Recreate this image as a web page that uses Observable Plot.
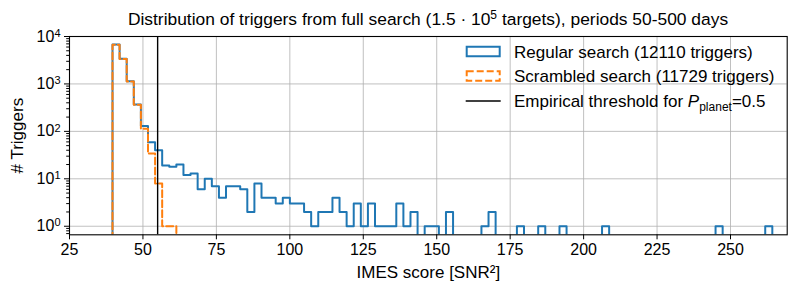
<!DOCTYPE html>
<html><head><meta charset="utf-8">
<script src="https://cdn.jsdelivr.net/npm/d3@7"></script>
<script src="https://cdn.jsdelivr.net/npm/@observablehq/plot@0.6"></script>
<style>
body{margin:0;background:#fff;font-family:"Liberation Sans",Arial,Helvetica,sans-serif;}
#wrap{position:relative;width:797px;height:295px;overflow:hidden;}
#title{position:absolute;left:69px;width:718px;top:9px;text-align:center;font-size:17.4px;line-height:20px;color:#000;white-space:nowrap;}
#title sup{font-size:12px;line-height:0;vertical-align:6px;}
#chart{position:absolute;left:0;top:30px;}
</style></head><body>
<div id="wrap"><div id="title">Distribution of triggers from full search (1.5 · 10<sup>5</sup> targets), periods 50-500 days</div><div id="chart"></div></div>
<script>
// bins (shared by both histograms)
const binStart = 39.64;
const binWidth = 2.415;
// Regular search counts per bin (12110 triggers)
const regularCounts = [
  6785,3385,1140,369,129,59,40,19,18,20,
  12,13,6,10,7,4,7,7,6,2,
  8,4,4,3,4,3,3,2,1,2,
  2,4,2,1,3,1,3,1,1,1,
  3,1,2,0,1,1,0,2,0,0,
  0,0,1,2,0,0,0,1,0,0,
  1,0,0,1,0,0,0,0,0,1,
  0,0,0,0,0,0,0,0,0,0,
  0,0,0,0,0,1,0,0,0,0,
  0,0,1
];
// Scrambled search counts per bin (11729 triggers)
const scrambledCounts = [6724,3355,1128,365,113,34,8,1,1];
const threshold = 55;
const xTicks = [25,50,75,100,125,150,175,200,225,250];
const yTicks = [1,10,100,1000,10000];
const yMinorTicks = [0.7,0.8,0.9,2,3,4,5,6,7,8,9,20,30,40,50,60,70,80,90,200,300,400,500,600,700,800,900,2000,3000,4000,5000,6000,7000,8000,9000];
const legendLabels = ["Regular search (12110 triggers)","Scrambled search (11729 triggers)","Empirical threshold for "];
const xLabel = "IMES score [SNR²]";
const yLabel = "# Triggers";

const floorVal = 0.2;
function stepPoints(counts){
  const pts=[{x:binStart,y:floorVal}];
  counts.forEach((c,i)=>pts.push({x:binStart+i*binWidth,y:c>0?c:floorVal}));
  pts.push({x:binStart+counts.length*binWidth,y:floorVal});
  return pts;
}
const regPts = stepPoints(regularCounts);
const scrPts = stepPoints(scrambledCounts);

const FONT='"Liberation Sans",Arial,Helvetica,sans-serif';
const gridStyle={stroke:"#b0b0b0",strokeOpacity:1,strokeWidth:0.8};
const chart = Plot.plot({
  width:797,height:265,
  marginLeft:69,marginRight:10.3,marginTop:6,marginBottom:60.7,
  style:{fontFamily:FONT,fontSize:"16px",background:"white",color:"black",overflow:"visible"},
  x:{domain:[25,269.3],label:null},
  y:{type:"log",domain:[0.66,10000],label:null},
  marks:[
    Plot.gridX(xTicks,gridStyle),
    Plot.gridY(yTicks,gridStyle),
    Plot.line(regPts,{x:"x",y:"y",curve:"step-after",stroke:"#1f77b4",strokeWidth:2,clip:true}),
    Plot.line(scrPts,{x:"x",y:"y",curve:"step-after",stroke:"#ff7f0e",strokeWidth:2,strokeDasharray:"7,3",clip:true}),
    Plot.ruleX([threshold],{stroke:"black",strokeWidth:1.4}),
    Plot.axisX(xTicks,{tickSize:5,tickPadding:4,fontSize:16,label:null}),
    Plot.axisY(yTicks,{tickSize:5,tickPadding:4,fontSize:16,label:null,tickFormat:d=>String(Math.round(Math.log10(d)))}),
    Plot.axisY(yMinorTicks,{tickSize:2.8,tickFormat:()=>"",label:null}),
    Plot.frame({stroke:"black",strokeWidth:1.1}),
    Plot.text([xLabel],{frameAnchor:"bottom",lineAnchor:"middle",textAnchor:"middle",dy:38,fontSize:17}),
    Plot.text([yLabel],{frameAnchor:"left",lineAnchor:"middle",textAnchor:"middle",dx:-51.5,rotate:-90,fontSize:17})
  ]
});
document.getElementById("chart").appendChild(chart);

// superscript exponents on y tick labels
d3.select(chart).selectAll('g[aria-label="y-axis tick label"] text').each(function(){
  const t=d3.select(this); const e=t.text().trim(); if(!e) return; t.text("");
  t.append("tspan").text("10");
  t.append("tspan").attr("dy","-0.45em").attr("font-size","11px").text(e);
});

// legend (svg coordinates)
const svg=d3.select(chart);
const lg=svg.append("g").attr("font-family",FONT).attr("font-size","17px").attr("text-anchor","start");
const lx=466.7, tx=514, rows=[21.5,46,71];
lg.append("rect").attr("x",lx).attr("y",rows[0]-4.75).attr("width",33).attr("height",9.5)
  .attr("fill","none").attr("stroke","#1f77b4").attr("stroke-width",2);
lg.append("rect").attr("x",lx).attr("y",rows[1]-4.75).attr("width",33).attr("height",9.5)
  .attr("fill","none").attr("stroke","#ff7f0e").attr("stroke-width",2).attr("stroke-dasharray","7,3");
lg.append("line").attr("x1",lx-1).attr("x2",lx+34).attr("y1",rows[2]).attr("y2",rows[2])
  .attr("stroke","black").attr("stroke-width",1.4);
lg.append("text").attr("x",tx).attr("y",rows[0]+6).text(legendLabels[0]);
lg.append("text").attr("x",tx).attr("y",rows[1]+6).text(legendLabels[1]);
const t3=lg.append("text").attr("x",tx).attr("y",rows[2]+6);
t3.append("tspan").text(legendLabels[2]);
t3.append("tspan").attr("font-style","italic").text("P");
t3.append("tspan").attr("font-size","12px").attr("dy","4").text("planet");
t3.append("tspan").attr("dy","-4").text("=0.5");
</script>
</body></html>
